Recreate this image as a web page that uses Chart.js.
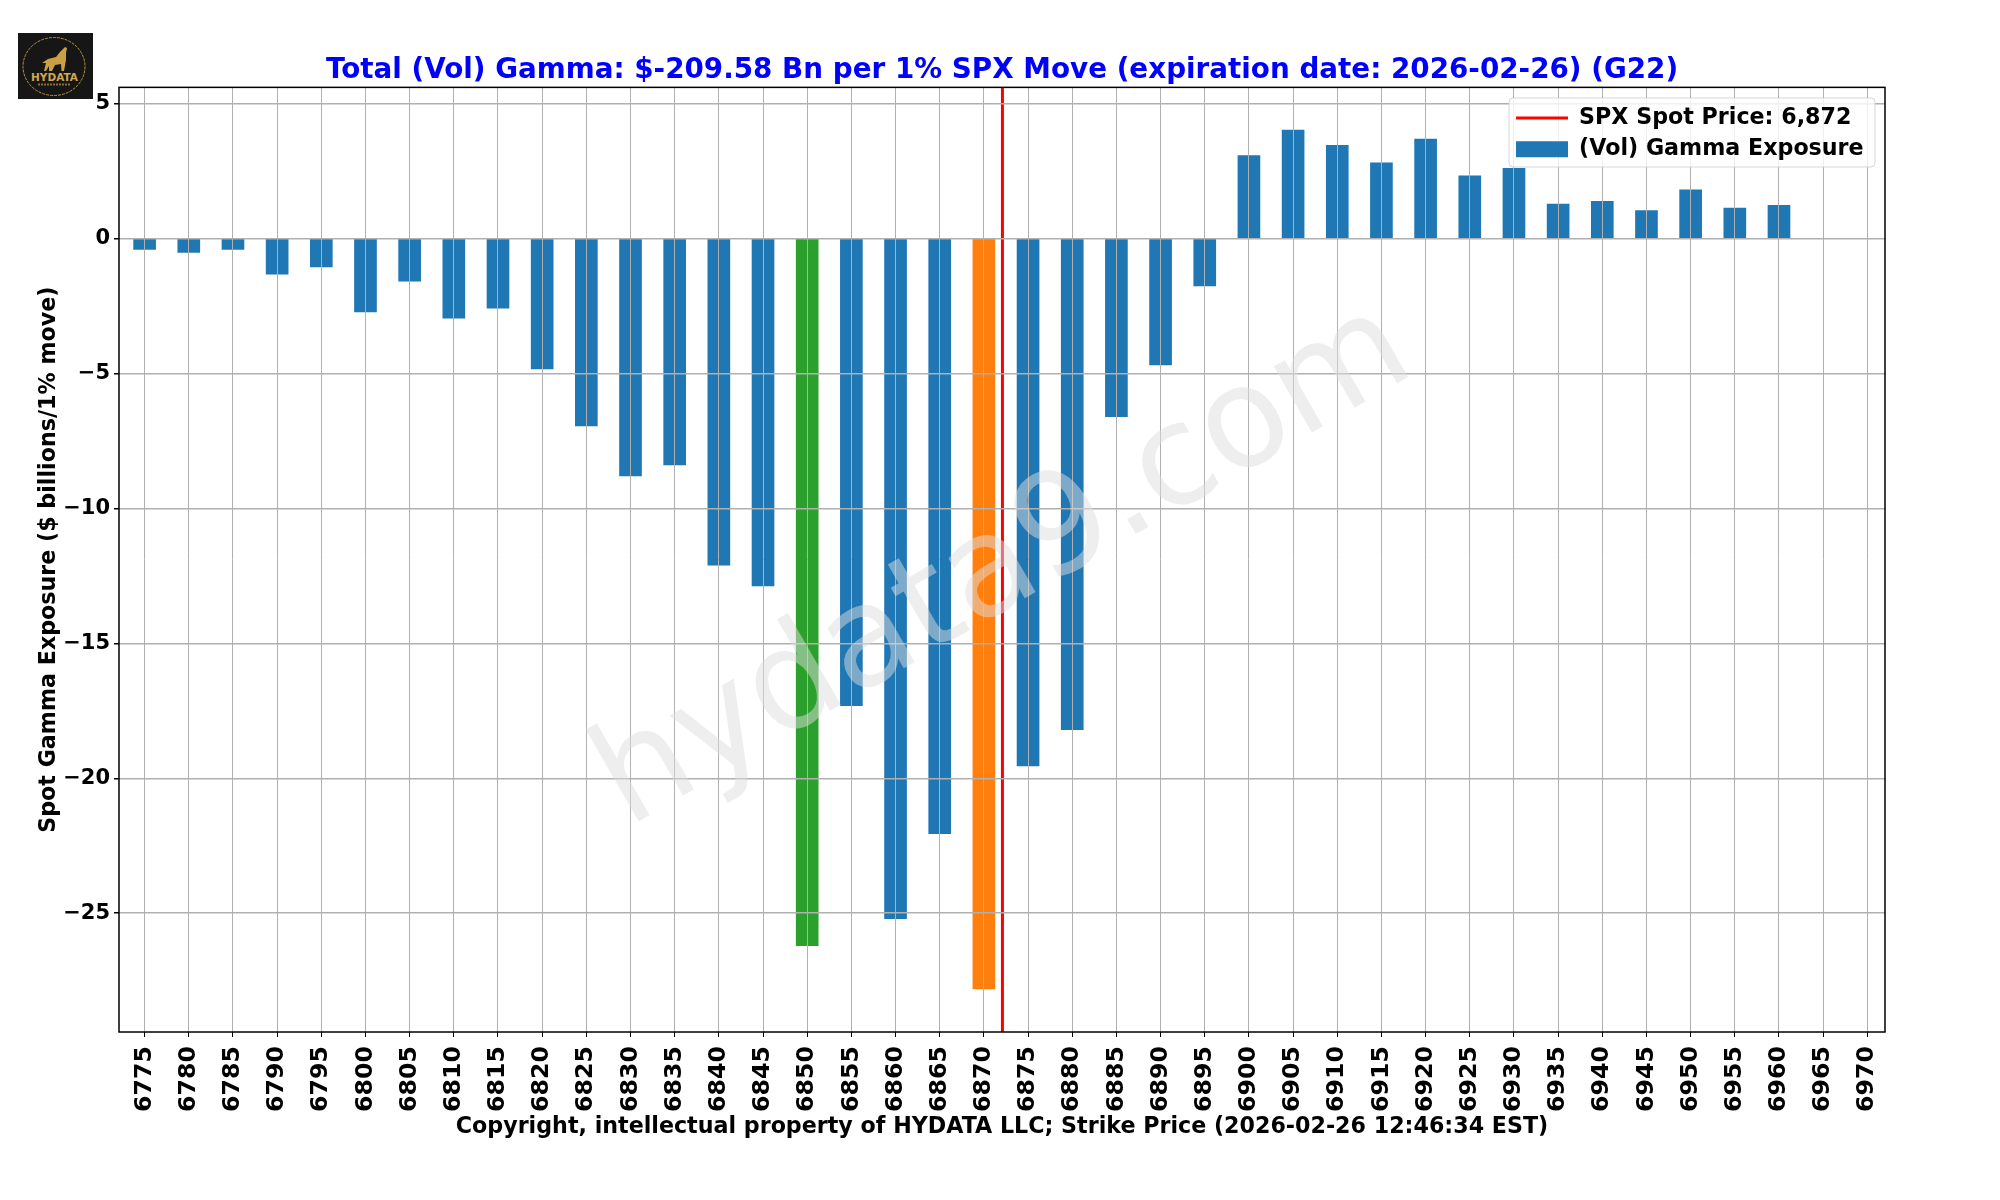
<!DOCTYPE html>
<html><head><meta charset="utf-8">
<style>html,body{margin:0;padding:0;background:#fff}#wrap{position:relative;width:2000px;height:1200px}canvas{display:block}
#logo{position:absolute;left:18px;top:33px;width:75px;height:66px}</style>
<script src="https://cdn.jsdelivr.net/npm/chart.js@4"></script>
</head><body><div id="wrap"><canvas id="c" width="2000" height="1200"></canvas>
<svg id="logo" viewBox="0 0 75 66"><rect width="75" height="66" fill="#161616"/><ellipse cx="36" cy="33.5" rx="31" ry="29" fill="none" stroke="#b8923e" stroke-width="1" stroke-dasharray="3 1"/>
<path d="M24 30 L30 26 L38 24 L42 19 L47 14 L49 15 L48 20 L48 27 L46 38 L43.5 38 L43 31 L37 32 L34 38 L31 38 L31 33 L28 38 L26 38 L28 30 Z" fill="#c9a045"/>
<text x="36.5" y="48" text-anchor="middle" font-family="DejaVu Sans" font-weight="bold" font-size="10.5" fill="#d0a850">HYDATA</text>
<path d="M20 51.5 H53" stroke="#8a7038" stroke-width="2" stroke-dasharray="2 1"/></svg>
</div>
<script>
const strikes = [6775,6780,6785,6790,6795,6800,6805,6810,6815,6820,6825,6830,6835,6840,6845,6850,6855,6860,6865,6870,6875,6880,6885,6890,6895,6900,6905,6910,6915,6920,6925,6930,6935,6940,6945,6950,6955,6960,6965,6970];
const gammaValues = [-0.4,-0.52,-0.4,-1.32,-1.05,-2.72,-1.58,-2.95,-2.58,-4.83,-6.94,-8.8,-8.39,-12.1,-12.87,-26.2,-17.31,-25.2,-22.05,-27.8,-19.54,-18.2,-6.6,-4.68,-1.76,3.07,4.02,3.45,2.8,3.68,2.32,2.6,1.28,1.38,1.03,1.8,1.13,1.23,null,null];
const spotPrice = 6872.1;
const greenStrike = 6850, orangeStrike = 6870;
const yTicks = [5,0,-5,-10,-15,-20,-25];
const titleText = "Total (Vol) Gamma: $-209.58 Bn per 1% SPX Move (expiration date: 2026-02-26) (G22)";
const xTitle = "Copyright, intellectual property of HYDATA LLC; Strike Price (2026-02-26 12:46:34 EST)";
const yTitle = "Spot Gamma Exposure ($ billions/1% move)";
const watermark = "hydata9.com";
const BLUE='#1f77b4',GREEN='#2ca02c',ORANGE='#ff7f0e';
const F="'DejaVu Sans'";
const X_MIN=6772.1, X_MAX=6972.0, Y_MIN=-29.4, Y_MAX=5.6;

const legendPlacer={id:'legendPlacer',
  beforeLayout(chart){const lg=chart.legend; if(!lg)return;
    lg._layers=()=>[{z:5,draw(){const x=1509,y=98,w=366,h=69;
      const c=chart.ctx;c.save();c.beginPath();c.roundRect(x,y,w,h,4);c.fillStyle='rgba(255,255,255,0.8)';c.fill();c.strokeStyle='rgba(204,204,204,0.8)';c.lineWidth=1;c.stroke();c.restore();
      lg.draw();}}];},
  afterLayout(chart){const lg=chart.legend;if(lg){lg.left=1507;lg.top=98;}},
};
const wm={id:'wm',afterDraw(chart){const c=chart.ctx;c.save();c.translate(1005,568);c.rotate(-30*Math.PI/180);
  c.font=`139px ${F}`;c.textAlign='center';c.textBaseline='middle';c.fillStyle='rgba(221,221,221,0.5)';c.fillText(watermark,0,0);c.restore();}};
const frame={id:'frame',afterDraw(chart){const a=chart.chartArea,c=chart.ctx;c.save();c.strokeStyle='#000';c.lineWidth=1.5;c.strokeRect(a.left,a.top,a.right-a.left,a.bottom-a.top);c.restore();}};

new Chart(document.getElementById('c'),{
  type:'bar',
  data:{datasets:[
    {type:'line',label:'SPX Spot Price: 6,872',data:[{x:spotPrice,y:Y_MIN},{x:spotPrice,y:Y_MAX}],borderColor:'#ff0000',borderWidth:3,pointRadius:0,order:0},
    {type:'bar',label:'(Vol) Gamma Exposure',data:strikes.map((s,i)=>({x:s,y:gammaValues[i]})),
     backgroundColor:strikes.map(s=>s===greenStrike?GREEN:s===orangeStrike?ORANGE:BLUE),barThickness:22,order:1}
  ]},
  options:{responsive:false,animation:false,devicePixelRatio:1,
    layout:{padding:{left:0,right:115,top:0,bottom:0}},
    plugins:{
      title:{display:true,fullSize:false,text:titleText,color:'#0000ff',font:{family:F,size:27.8,weight:'bold'},padding:{top:54,bottom:0}},
      tooltip:{enabled:false},
      legend:{display:true,position:'chartArea',align:'start',
        labels:{font:{family:F,size:22.2,weight:'bold'},color:'#000',boxWidth:52,boxHeight:16,usePointStyle:true,pointStyleWidth:52,padding:9,
          generateLabels(){return [
            {text:'SPX Spot Price: 6,872',pointStyle:'line',strokeStyle:'#ff0000',fillStyle:'#ff0000',lineWidth:3,datasetIndex:0},
            {text:'(Vol) Gamma Exposure',pointStyle:'rect',strokeStyle:BLUE,fillStyle:BLUE,lineWidth:0,datasetIndex:1}];}}}
    },
    scales:{
      x:{type:'linear',offset:false,min:X_MIN,max:X_MAX,
        afterBuildTicks(ax){ax.ticks=strikes.map(v=>({value:v}));},
        afterFit(ax){ax.height=168;},
        grid:{offset:false,color:'#b0b0b0',lineWidth:1,z:1,drawTicks:true,tickLength:5,tickColor:'#000'},
        border:{display:false},
        ticks:{autoSkip:false,maxRotation:90,minRotation:90,color:'#000',padding:9,font:{family:F,size:23.7,weight:'bold'},callback:v=>String(v)},
        title:{display:true,text:xTitle,color:'#000',font:{family:F,size:22.2,weight:'bold'},padding:{top:0,bottom:59}}},
      y:{type:'linear',min:Y_MIN,max:Y_MAX,
        afterBuildTicks(ax){ax.ticks=yTicks.map(v=>({value:v}));},
        afterFit(ax){ax.width=119;},
        grid:{color:'#b0b0b0',lineWidth:1.5,z:1,tickLength:5,tickColor:'#000'},
        border:{display:false},
        ticks:{color:'#000',padding:4,font:{family:F,size:21,weight:'bold'},callback:v=>String(v).replace('-','\u2212')},
        title:{display:true,text:yTitle,color:'#000',font:{family:F,size:22.2,weight:'bold'},padding:{top:36,bottom:0}}}
    }
  },
  plugins:[legendPlacer,frame,wm]
});
</script></body></html>
